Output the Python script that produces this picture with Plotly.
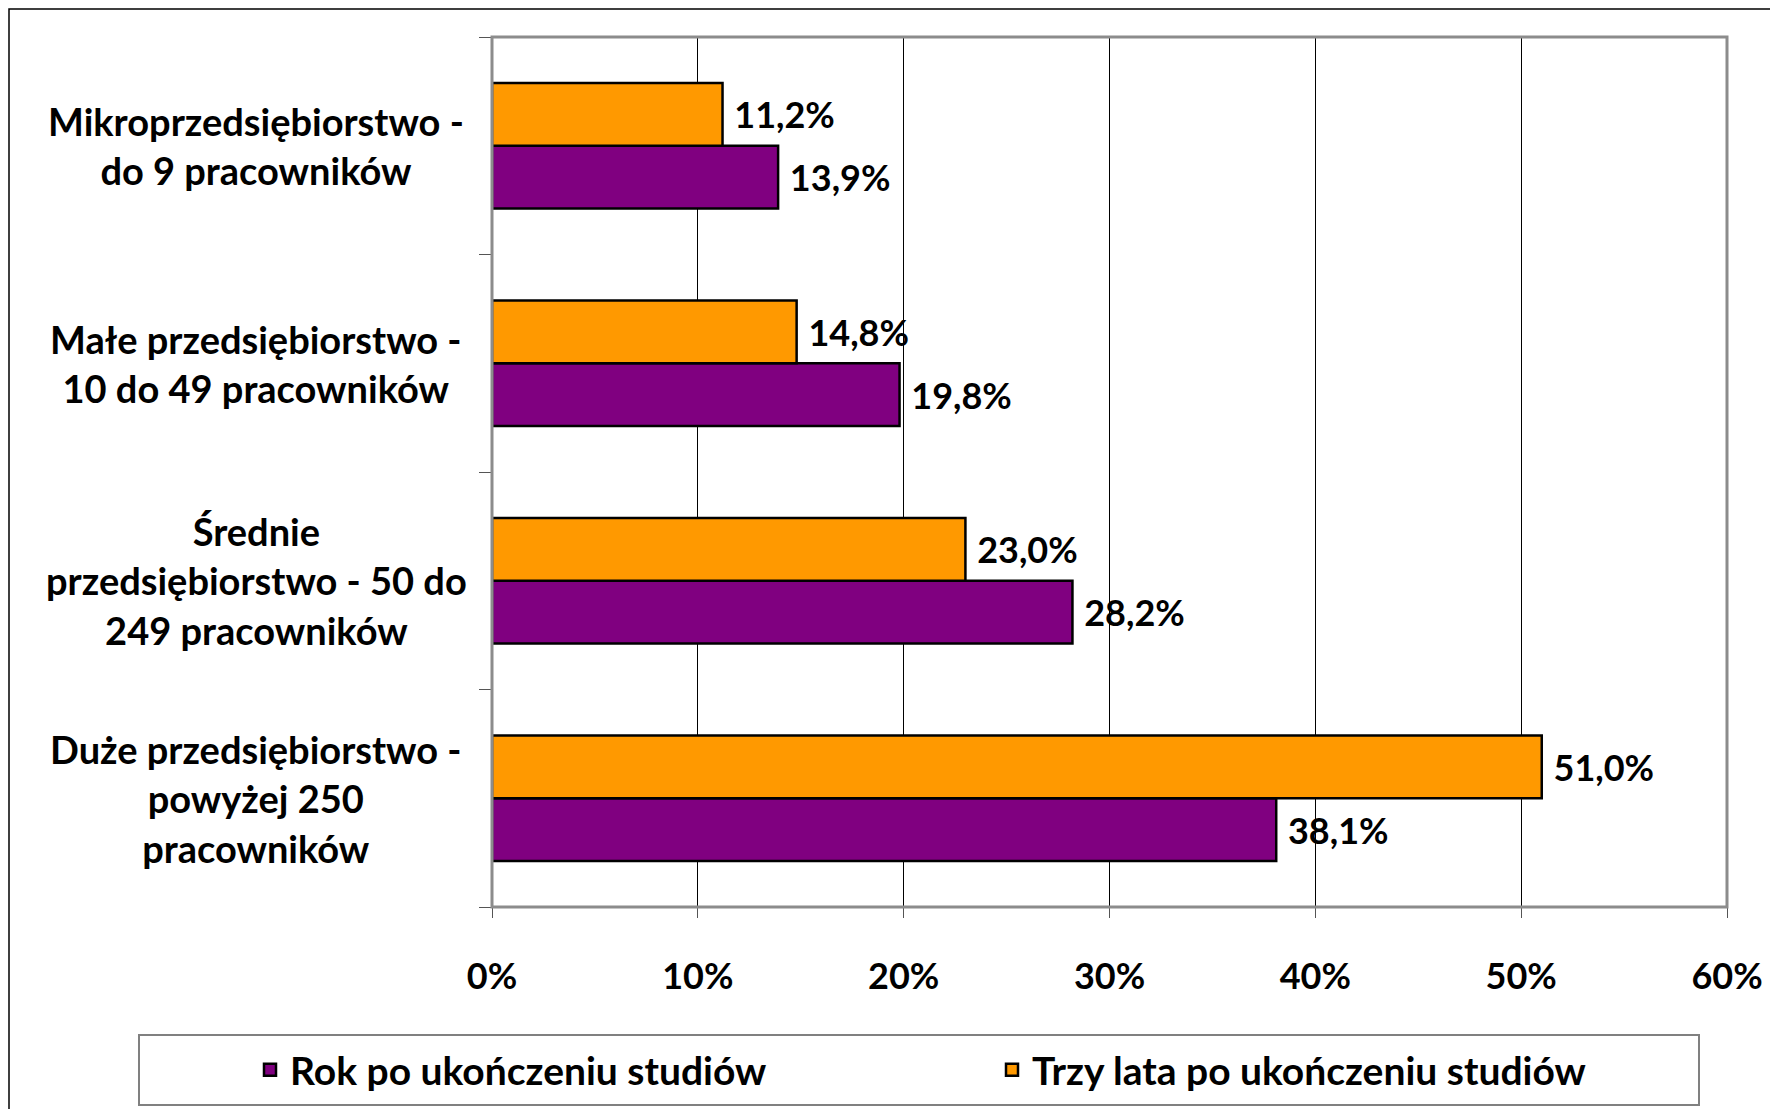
import plotly.graph_objects as go

categories = [
    "Mikroprzedsiębiorstwo -<br>do 9 pracowników",
    "Małe przedsiębiorstwo -<br>10 do 49 pracowników",
    "Średnie<br>przedsiębiorstwo - 50 do<br>249 pracowników",
    "Duże przedsiębiorstwo -<br>powyżej 250<br>pracowników",
]
series_names = ["Rok po ukończeniu studiów", "Trzy lata po ukończeniu studiów"]
rok_values = [13.9, 19.8, 28.2, 38.1]
trzy_values = [11.2, 14.8, 23.0, 51.0]
colors = ["#800080", "#FF9900"]
x_ticks = [0, 10, 20, 30, 40, 50, 60]

# figure is placed at (8,8) in the page by the default body margin
W, H = 1770, 1101
OFF = 8
L, R, T, B = 492 - OFF, 1727 - OFF, 37 - OFF, 907 - OFF
FONT = "Lato"


def px_x(p):
    return (p - OFF - L) / (R - L)


def px_y(p):
    return (B - (p - OFF)) / (B - T)


def fmt(v):
    return "\u00a0" + f"{v:.1f}%".replace(".", ",")


fig = go.Figure()
for name, vals, col in zip(series_names, [rok_values, trzy_values], colors):
    fig.add_trace(go.Bar(
        y=categories, x=[v / 100 for v in vals], orientation="h", name=name,
        marker=dict(color=col, line=dict(color="black", width=2.5)),
        text=[fmt(v) for v in vals], textposition="outside",
        textfont=dict(family=FONT, size=36, color="black", weight="bold"),
        cliponaxis=False,
    ))

for c in categories:
    fig.add_annotation(x=px_x(256), xref="paper", y=c, yref="y", text=c,
                       showarrow=False, align="center", xanchor="center", yanchor="middle",
                       font=dict(family=FONT, size=38, color="black", weight="bold"))

shapes = [
    dict(type="rect", xref="paper", yref="paper", x0=px_x(9), x1=px_x(1800), y0=px_y(9), y1=px_y(1130),
         line=dict(color="black", width=1.5), layer="below"),
    dict(type="rect", xref="paper", yref="paper", x0=px_x(139), x1=px_x(1699), y0=px_y(1035), y1=px_y(1105),
         line=dict(color="#808080", width=2), fillcolor="white", layer="below"),
    dict(type="rect", xref="paper", yref="paper", x0=0, x1=1, y0=0, y1=1,
         line=dict(color="#8c8c8c", width=3)),
]

fig.update_layout(
    width=W, height=H, margin=dict(l=L, r=W - R, t=T, b=H - B, autoexpand=False),
    paper_bgcolor="white", plot_bgcolor="white",
    barmode="group", bargap=0.424, bargroupgap=0,
    font=dict(family=FONT, color="black"),
    shapes=shapes,
    legend=dict(orientation="h", x=px_x(250), xanchor="left", y=px_y(1070), yanchor="middle",
                font=dict(family=FONT, size=39, color="black", weight="bold"),
                entrywidth=697, bgcolor="rgba(0,0,0,0)", borderwidth=0,
                traceorder="normal"),
    xaxis=dict(range=[0, 0.6], tickvals=[t / 100 for t in x_ticks], tickformat=".0%",
               showgrid=True, gridcolor="black", gridwidth=1, automargin=False,
               ticks="outside", ticklen=10, tickcolor="#555", showline=False, zeroline=False,
               ticklabelstandoff=28,
               tickfont=dict(family=FONT, size=36, color="black", weight="bold")),
    yaxis=dict(categoryorder="array", categoryarray=categories[::-1], automargin=False,
               showticklabels=False, ticks="outside", tickson="boundaries", ticklen=12,
               tickcolor="#555", showgrid=False, showline=False, zeroline=False),
)

fig.write_html("out.html")
